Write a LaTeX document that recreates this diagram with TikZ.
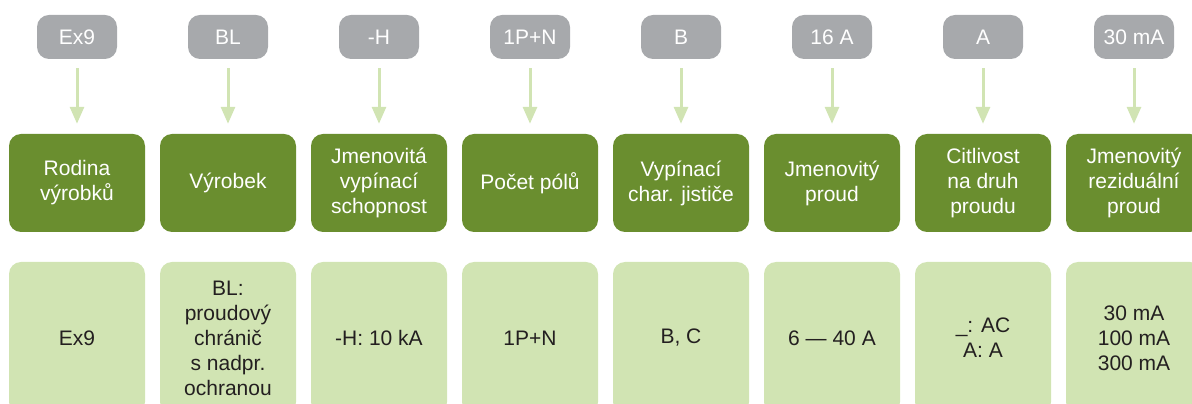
\documentclass[tikz,border=0pt]{standalone}
\usepackage{fontspec}
\setmainfont{Liberation Sans}
\usetikzlibrary{arrows.meta}

\definecolor{codegray}{HTML}{A7A9AC}
\definecolor{paramgreen}{HTML}{6A8E2F}
\definecolor{valgreen}{HTML}{D1E4B3}
\definecolor{valtext}{HTML}{231F20}

\begin{document}
\begin{tikzpicture}[x=1pt,y=1pt,
    font=\fontsize{21}{25}\selectfont,
    code/.style={fill=codegray, text=white, rounded corners=12pt, minimum width=80pt, minimum height=44pt, inner sep=0pt},
    param/.style={fill=paramgreen, text=white, rounded corners=12pt, minimum width=136pt, minimum height=98pt, align=center, inner sep=0pt},
    val/.style={fill=valgreen, text=valtext, rounded corners=12pt, minimum width=136pt, minimum height=152pt, align=center, inner sep=0pt},
    link/.style={-{Triangle[width=14pt,length=17pt]}, line width=3pt, valgreen, shorten <=9pt, shorten >=10pt}]

  \useasboundingbox (0,0) rectangle (1192,404);
  \clip (0,0) rectangle (1192,404);

% Columns
  \foreach \i/\code/\param/\val in {
      0/{Ex9}/{Rodina\\výrobků}/{Ex9},
      1/{BL}/{Výrobek}/{BL:\\proudový\\chránič\\s nadpr.\\ochranou},
      2/{-H}/{Jmenovitá\\vypínací\\schopnost}/{-H: 10 kA},
      3/{1P+N}/{Počet pólů}/{1P+N},
      4/{B}/{Vypínací\\char. jističe}/{B, C},
      5/{16 A}/{Jmenovitý\\proud}/{6 — 40 A},
      6/{A}/{Citlivost\\na druh\\proudu}/{\_: AC\\A: A},
      7/{30 mA}/{Jmenovitý\\reziduální\\proud}/{30 mA\\100 mA\\300 mA}}
  {
    \node[code]  (code\i)  at (77+151*\i,367) {\code};
    \node[param] (param\i) at (77+151*\i,221) {\param};
    \node[val]   (val\i)   at (77+151*\i,66)  {\val};
    \draw[link] (code\i.south) -- (param\i.north);
  }

\end{tikzpicture}
\end{document}
